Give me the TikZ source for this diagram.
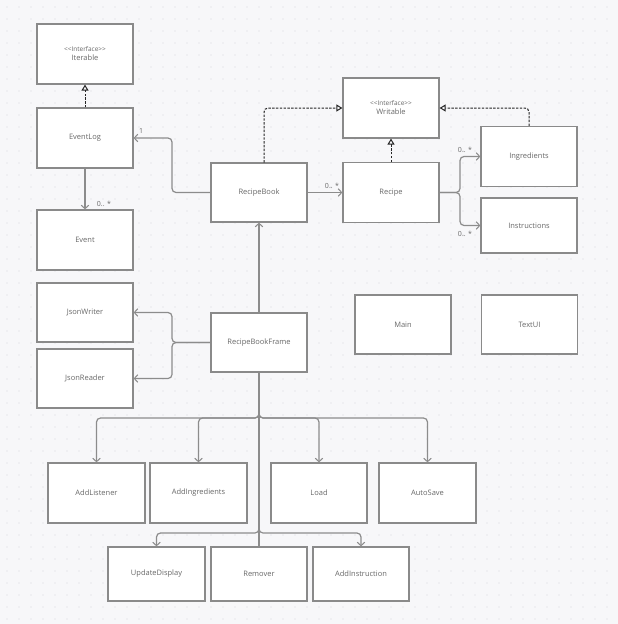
\documentclass[tikz,border=0pt]{standalone}
\usepackage{fontspec}
\setmainfont{Open Sans}
\usetikzlibrary{arrows.meta,calc}
\definecolor{bgc}{HTML}{F7F7F9}
\definecolor{dotc}{HTML}{D6D6DC}
\definecolor{edgec}{HTML}{8A8A8A}
\definecolor{linkc}{HTML}{8C8C8C}
\definecolor{txtc}{HTML}{686868}
\definecolor{dashc}{HTML}{262626}
\newcommand\stereotag{{\fontsize{6.5}{7}\selectfont <\kern0pt<Interface>\kern0pt>}}
\tikzset{
  cls/.style={draw=edgec, fill=white, line width=1.2pt, minimum width=96pt,
    minimum height=60pt, inner sep=0pt, text=txtc, font=\fontsize{7.5}{9}\selectfont,
    align=center},
  assoc/.style={draw=linkc, line width=1.2pt, rounded corners=4pt,
    -{Straight Barb[length=3.5pt,width=7.5pt,line width=1pt]}},
  plainlink/.style={draw=linkc, line width=1.2pt, rounded corners=4pt},
  realize/.style={draw=dashc, line width=1pt, dash pattern=on 2.4pt off 1.4pt,
    rounded corners=4pt, -{Triangle[open,length=6pt,width=7pt,line width=1pt]}},
  mult/.style={text=txtc, font=\fontsize{7}{8}\selectfont, inner sep=0pt}
}
\begin{document}
\begin{tikzpicture}[x=1pt,y=-1pt]
  % canvas with dotted grid
  \fill[bgc] (0,0) rectangle (618,624);
  \useasboundingbox (0,0) rectangle (618,624);
  \foreach \i in {0,...,51}{
    \foreach \j in {0,...,51}{
      \fill[dotc] (7+12*\i,7+12*\j) circle (0.55pt);
    }
  }

  % classes
  \node[cls] (iter) at (85,54) {\stereotag\\Iterable};
  \node[cls] (elog) at (85,138) {EventLog};
  \node[cls] (event) at (85,240) {Event};
  \node[cls, minimum height=59pt] (jw) at (85,312.5) {JsonWriter};
  \node[cls, minimum height=59pt] (jr) at (85,378.5) {JsonReader};
  \node[cls, minimum height=59pt] (rb) at (259,192.5) {RecipeBook};
  \node[cls, minimum height=59pt] (rbf) at (259,342.5) {RecipeBookFrame};
  \node[cls] (writ) at (391,108) {\stereotag\\Writable};
  \node[cls] (recipe) at (391,192.5) {Recipe};
  \node[cls] (ingr) at (529,156.5) {Ingredients};
  \node[cls, minimum height=55pt] (instr) at (529,225.5) {Instructions};
  \node[cls, minimum height=59pt] (main) at (403,324.5) {Main};
  \node[cls, minimum height=59pt] (tui) at (529.5,324.5) {TextUI};
  \node[cls, minimum width=97pt] (addl) at (96.5,493) {AddListener};
  \node[cls, minimum width=97pt] (addi) at (198.5,493) {AddIngredients};
  \node[cls] (load) at (319,493) {Load};
  \node[cls, minimum width=97pt] (autos) at (427.5,493) {AutoSave};
  \node[cls, minimum width=97pt, minimum height=54pt] (upd) at (156.5,574) {UpdateDisplay};
  \node[cls, minimum height=54pt] (rem) at (259,574) {Remover};
  \node[cls, minimum height=54pt] (addin) at (361,574) {AddInstruction};

  % junction points
  \coordinate (jl) at (172,192.5);
  \coordinate (jj) at (172,342.5);
  \coordinate (jr2) at (460,192.5);
  \coordinate (t1) at (259,418);
  \coordinate (t2) at (259,533);
  \coordinate (rbtop) at (264,162.5);

  % interface realizations
  \draw[realize] (elog.north) -- (iter.south);
  \draw[realize] (recipe.north) -- (writ.south);
  \draw[realize] (rbtop) |- (writ.west);
  \draw[realize] (ingr.north) |- (writ.east);

  % associations
  \draw[assoc] (rb.west) -- (jl) |- (elog.east);
  \node[mult] at (141,131) {1};
  \draw[assoc] (elog.south) -- (event.north);
  \node[mult] at (104,204) {0.. *};
  \draw[assoc] (rb.east) -- (recipe.west);
  \node[mult] at (332,186) {0.. *};
  \draw[assoc] (recipe.east) -- (jr2) |- (ingr.west);
  \draw[assoc] (recipe.east) -- (jr2) |- (instr.west);
  \node[mult] at (465,150) {0.. *};
  \node[mult] at (465,234) {0.. *};
  \draw[assoc] (rbf.north) -- (rb.south);
  \draw[assoc] (rbf.west) -- (jj) |- (jw.east);
  \draw[assoc] (rbf.west) -- (jj) |- (jr.east);

  % frame listeners
  \draw[assoc] (rbf.south) -- (t1) -| (addl.north);
  \draw[assoc] (rbf.south) -- (t1) -| (addi.north);
  \draw[assoc] (rbf.south) -- (t1) -| (load.north);
  \draw[assoc] (rbf.south) -- (t1) -| (autos.north);
  \draw[assoc] (rbf.south) -- (t2) -| (upd.north);
  \draw[assoc] (rbf.south) -- (t2) -| (addin.north);
  \draw[plainlink] (rbf.south) -- (rem.north);
\end{tikzpicture}
\end{document}
